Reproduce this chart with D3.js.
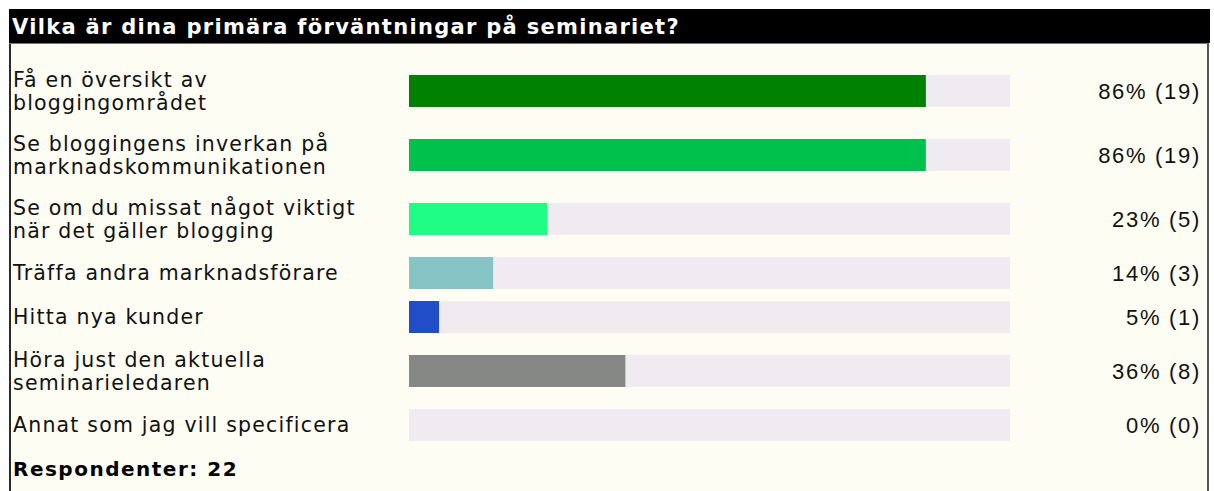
<!DOCTYPE html>
<html>
<head>
<meta charset="utf-8">
<script src="https://cdn.jsdelivr.net/npm/d3@7"></script>
<style>
  html, body { margin: 0; padding: 0; background: #ffffff; }
  svg { display: block; }
</style>
</head>
<body>
<svg id="chart" width="1214" height="491"></svg>
<script>
// ---- data ----
const title = "Vilka är dina primära förväntningar på seminariet?";
const categories = [
  "Få en översikt av\nbloggingområdet",
  "Se bloggingens inverkan på\nmarknadskommunikationen",
  "Se om du missat något viktigt\nnär det gäller blogging",
  "Träffa andra marknadsförare",
  "Hitta nya kunder",
  "Höra just den aktuella\nseminarieledaren",
  "Annat som jag vill specificera"
];
const percents = [86, 86, 23, 14, 5, 36, 0];
const counts = [19, 19, 5, 3, 1, 8, 0];
const barColors = ["#008200", "#00c14b", "#20fd85", "#86c3c4", "#224dc8", "#868885", "#efebf0"];
const respondentsLabel = "Respondenter:";
const respondents = 22;

// ---- layout ----
const W = 1214, H = 491;
const svg = d3.select("#chart");
const frameLeft = 9, frameRight = 1210, headerTop = 9, headerBottom = 43;
const bodyTop = 59;
const lineH = 23;
const barH = 32;
const labelFont = "'DejaVu Sans', Verdana, sans-serif";

const lines = categories.map(c => c.split("\n"));
const rowHeights = lines.map(l => l.length > 1 ? 64 : 44);
const rowTops = [0, ...d3.cumsum(rowHeights)].map(v => v + bodyTop);
const rowCenters = rowHeights.map((h, i) => rowTops[i] + h / 2);

const x = d3.scaleLinear().domain([0, 100]).range([409, 1010]);

// body background + borders
svg.append("rect").attr("x", frameLeft).attr("y", headerBottom)
  .attr("width", frameRight - frameLeft).attr("height", H - headerBottom)
  .attr("fill", "#fdfdf4");
svg.append("line").attr("x1", frameLeft + 1).attr("x2", frameLeft + 1)
  .attr("y1", headerBottom).attr("y2", H).attr("stroke", "#2a2a2a").attr("stroke-width", 2);
svg.append("line").attr("x1", frameRight - 2).attr("x2", frameRight - 2)
  .attr("y1", headerBottom).attr("y2", H).attr("stroke", "#555").attr("stroke-width", 2);
svg.append("line").attr("x1", frameLeft).attr("x2", frameRight - 1)
  .attr("y1", headerBottom + 0.5).attr("y2", headerBottom + 0.5).attr("stroke", "#777").attr("stroke-width", 1);

// header
svg.append("rect").attr("x", frameLeft).attr("y", headerTop)
  .attr("width", frameRight - frameLeft).attr("height", headerBottom - headerTop)
  .attr("fill", "#000");
svg.append("text").attr("x", 12).attr("y", 34)
  .attr("fill", "#fff").attr("font-family", labelFont).attr("font-weight", "bold")
  .attr("font-size", "21px").attr("letter-spacing", "1.3px")
  .text(title);

// rows
const rows = svg.selectAll("g.row").data(categories).join("g").attr("class", "row");

rows.append("text")
  .attr("font-family", labelFont).attr("font-size", "20.5px").attr("letter-spacing", "1.2px")
  .attr("fill", "#111")
  .each(function(d, i) {
    const l = lines[i];
    const t = d3.select(this);
    l.forEach((s, k) => {
      t.append("tspan").attr("x", 13)
        .attr("y", rowCenters[i] + (k - (l.length - 1) / 2) * lineH)
        .attr("dominant-baseline", "central")
        .text(s);
    });
  });

// tracks
rows.append("rect")
  .attr("x", x(0)).attr("y", (d, i) => rowCenters[i] - barH / 2)
  .attr("width", x(100) - x(0)).attr("height", barH)
  .attr("fill", "#efebf0");

// bars
rows.append("rect")
  .attr("x", x(0)).attr("y", (d, i) => rowCenters[i] - barH / 2)
  .attr("width", (d, i) => x(percents[i]) - x(0)).attr("height", barH)
  .attr("fill", (d, i) => barColors[i]);

// value labels
rows.append("text")
  .attr("x", 1201).attr("y", (d, i) => rowCenters[i])
  .attr("text-anchor", "end").attr("dominant-baseline", "central")
  .attr("font-family", "'Liberation Sans', Arial, sans-serif").attr("font-size", "22px")
  .attr("letter-spacing", "1.7px").attr("fill", "#111")
  .text((d, i) => `${percents[i]}% (${counts[i]})`);

// respondents
const lastBottom = rowTops[rowTops.length - 1];
svg.append("text").attr("x", 13).attr("y", lastBottom + 22)
  .attr("dominant-baseline", "central")
  .attr("font-family", labelFont).attr("font-weight", "bold")
  .attr("font-size", "20px").attr("letter-spacing", "1.5px").attr("fill", "#000")
  .text(`${respondentsLabel} ${respondents}`);
</script>
</body>
</html>
